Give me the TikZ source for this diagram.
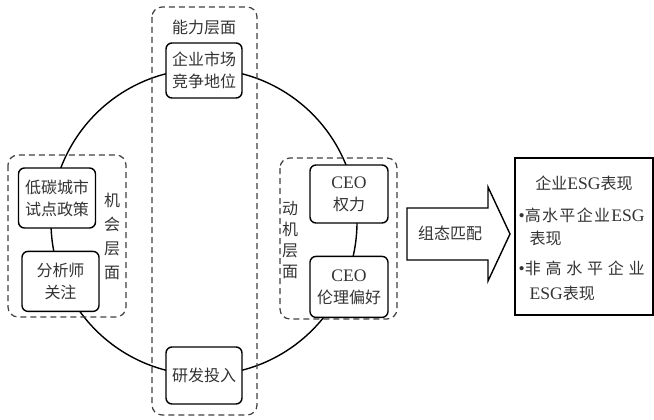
\documentclass[tikz,border=0pt]{standalone}
\usepackage{fontspec}
\setmainfont{Noto Sans CJK SC}
\newfontfamily\latinfont{Liberation Serif}[Scale=1.1]
\usetikzlibrary{positioning}
\newcommand{\Lat}[1]{{\latinfont #1}}

\begin{document}
\begin{tikzpicture}[x=1pt, y=-1pt, line width=1.4pt,
BoxStyle/.style={draw, fill=white, rounded corners=6pt, align=center,
                inner sep=2pt, minimum width=76pt, minimum height=56pt,
                font=\fontsize{16}{22}\selectfont, text=black!80},
GroupStyle/.style={draw=black!75, dash pattern=on 6pt off 4pt,
                rounded corners=10pt, line width=1.2pt},
LabelStyle/.style={font=\fontsize{16}{22}\selectfont, text=black!80,
                align=center, inner sep=0pt},]
\useasboundingbox (0,0) rectangle (654,420);
% ring
\draw (204,222) circle[radius=153pt];
% groups
\draw[GroupStyle] (152,7) rectangle (257,415);
\draw[GroupStyle] (8,155) rectangle (126,317);
\draw[GroupStyle] (280,158) rectangle (397,319);
\node[LabelStyle] (abl) at (204,27) {能力层面};
\node[LabelStyle, font=\fontsize{16}{24}\selectfont] (opp) at (112,236) {机\\会\\层\\面};
\node[LabelStyle, font=\fontsize{16}{21}\selectfont] (mot) at (290,240) {动\\机\\层\\面};
% factors
\node[BoxStyle, minimum height=55pt] (mkt) at (204,70.5) {企业市场\\竞争地位};
\node[BoxStyle, minimum height=57pt] (rd) at (204,375.5) {研发投入};
\node[BoxStyle, minimum width=77pt, minimum height=60pt] (lc) at (57,198) {低碳城市\\试点政策};
\node[BoxStyle, minimum width=77pt, minimum height=60pt, below=22pt of lc,
      xshift=3.5pt] (ana) {分析师\\关注};
\node[BoxStyle, minimum width=78pt, minimum height=58pt] (pwr) at (349,194) {\Lat{CEO}\\权力};
\node[BoxStyle, minimum width=78pt, minimum height=61pt, below=32pt of pwr] (eth) {\Lat{CEO}\\伦理偏好};
% arrow
\draw[fill=white] (407,208) -- (488,208) -- (488,187) -- (510,234) -- (488,281)
      -- (488,260) -- (407,260) -- cycle;
\node[LabelStyle] (cfg) at (450,233) {组态匹配};
% outcome
\node[draw, line width=1.6pt, minimum width=138pt, minimum height=157pt,
      inner sep=0pt] (res) at (584,236.5) {};
\node[LabelStyle] (ttl) at (584,183) {企业\Lat{ESG}表现};
\node[LabelStyle, anchor=west] (hi1) at (518,215) {\makebox[126pt]{\Lat{•}高\hfill 水\hfill 平\hfill 企\hfill 业\hfill\Lat{ESG}}};
\node[LabelStyle, anchor=west] (hi2) at (529,238) {表现};
\node[LabelStyle, anchor=west] (lo1) at (518,268) {\makebox[126pt]{\Lat{•}非\hfill 高\hfill 水\hfill 平\hfill 企\hfill 业}};
\node[LabelStyle, anchor=west] (lo2) at (529,293) {\Lat{ESG}表现};
\end{tikzpicture}
\end{document}
